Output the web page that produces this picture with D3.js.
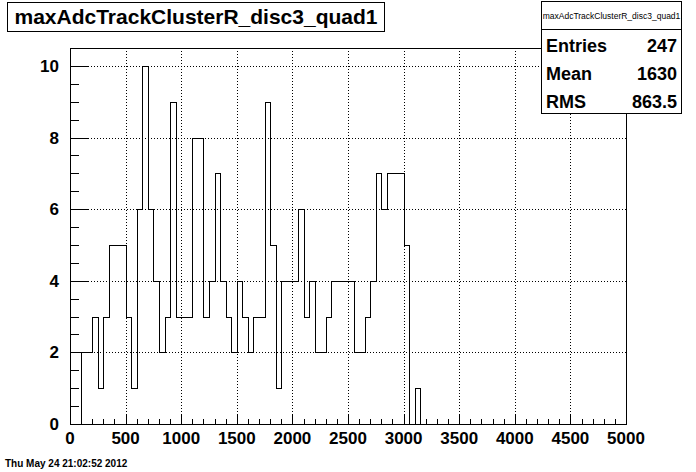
<!DOCTYPE html>
<html>
<head>
<meta charset="utf-8">
<script src="https://cdn.jsdelivr.net/npm/d3@7"></script>
<style>
  body { margin: 0; background: #fff; }
  svg { display: block; font-family: "Liberation Sans", Arial, sans-serif; }
</style>
</head>
<body>
<svg id="chart" width="696" height="472"></svg>
<script>
// histogram data (bin width 50, starting at 0)
const histTitle = "maxAdcTrackClusterR_disc3_quad1";
const binWidth = 50;
const counts = [0, 0, 2, 2, 3, 1, 3, 5, 5, 5, 3, 1, 6, 10, 6, 4, 2, 3, 9, 3,
                3, 3, 8, 8, 3, 4, 7, 4, 3, 2, 4, 3, 2, 3, 3, 9, 5, 1, 4, 4,
                4, 6, 3, 4, 2, 2, 3, 4, 4, 4, 4, 2, 2, 3, 4, 7, 6, 7, 7, 7,
                5, 0, 1];
const xTicks = [0, 500, 1000, 1500, 2000, 2500, 3000, 3500, 4000, 4500, 5000];
const yTicks = [0, 2, 4, 6, 8, 10];
const statLabels = ["Entries", "Mean", "RMS"];
const statValues = ["247", "1630", "863.5"];
const dateText = "Thu May 24 21:02:52 2012";

const svg = d3.select("#chart");
const frame = { left: 70, right: 626, top: 48, bottom: 424 };

const x = d3.scaleLinear().domain([0, 5000]).range([frame.left, frame.right]);
const y = d3.scaleLinear().domain([0, 10.5]).range([frame.bottom, frame.top]);

// grid (dotted)
const grid = svg.append("g").attr("stroke", "#000").attr("stroke-width", 1)
    .attr("stroke-dasharray", "1,2").attr("shape-rendering", "crispEdges");
grid.selectAll(".gx").data(xTicks.slice(1, -1)).enter().append("line")
    .attr("x1", d => Math.round(x(d)) + 0.5).attr("x2", d => Math.round(x(d)) + 0.5)
    .attr("y1", frame.top).attr("y2", frame.bottom);
grid.selectAll(".gy").data(yTicks.slice(1)).enter().append("line")
    .attr("y1", d => Math.round(y(d)) + 0.5).attr("y2", d => Math.round(y(d)) + 0.5)
    .attr("x1", frame.left).attr("x2", frame.right);

// histogram outline
const pts = [[0, 0]];
counts.forEach((c, i) => {
    pts.push([i * binWidth, c]);
    pts.push([(i + 1) * binWidth, c]);
});
pts.push([counts.length * binWidth, 0]);
pts.push([5000, 0]);
svg.append("path")
    .datum(pts)
    .attr("fill", "none")
    .attr("stroke", "#000")
    .attr("stroke-width", 1)
    .attr("shape-rendering", "crispEdges")
    .attr("d", d3.line().x(d => Math.round(x(d[0])) + 0.5).y(d => Math.round(y(d[1])) + 0.5));

// frame
svg.append("rect")
    .attr("x", frame.left + 0.5).attr("y", frame.top + 0.5)
    .attr("width", frame.right - frame.left).attr("height", frame.bottom - frame.top)
    .attr("fill", "none").attr("stroke", "#000").attr("shape-rendering", "crispEdges");

// axes, ticks pointing inward
const xAxis = d3.axisTop(x).tickValues(d3.range(0, 5001, 100)).tickFormat("")
    .tickSizeInner(0).tickSizeOuter(0);
const gx = svg.append("g").attr("transform", `translate(0,${frame.bottom + 0.5})`).call(xAxis);
gx.select(".domain").remove();
gx.selectAll(".tick line")
    .attr("y2", d => d % 500 === 0 ? -11 : -6)
    .attr("stroke", "#000").attr("shape-rendering", "crispEdges");

const yAxis = d3.axisRight(y).tickValues(d3.range(0, 10.01, 0.5)).tickFormat("")
    .tickSizeInner(0).tickSizeOuter(0);
const gy = svg.append("g").attr("transform", `translate(${frame.left + 0.5},0)`).call(yAxis);
gy.select(".domain").remove();
gy.selectAll(".tick line")
    .attr("x2", d => d % 2 === 0 ? 17 : 8)
    .attr("stroke", "#000").attr("shape-rendering", "crispEdges");

// tick labels
svg.append("g").selectAll("text").data(xTicks).enter().append("text")
    .attr("x", d => x(d)).attr("y", 444)
    .attr("text-anchor", "middle")
    .attr("font-size", 17).attr("font-weight", "bold")
    .text(d => d);
svg.append("g").selectAll("text").data(yTicks).enter().append("text")
    .attr("x", 59).attr("y", d => y(d) + 6)
    .attr("text-anchor", "end")
    .attr("font-size", 17).attr("font-weight", "bold")
    .text(d => d);

// title box
svg.append("rect")
    .attr("x", 7.5).attr("y", 2.5).attr("width", 377).attr("height", 29)
    .attr("fill", "#fff").attr("stroke", "#000");
svg.append("text")
    .attr("x", 196).attr("y", 24)
    .attr("text-anchor", "middle")
    .attr("font-size", 21).attr("font-weight", "bold")
    .text(histTitle);

// stat box
const sb = { x: 541.5, y: 1.5, w: 140, h: 112 };
svg.append("rect")
    .attr("x", sb.x).attr("y", sb.y).attr("width", sb.w).attr("height", sb.h)
    .attr("fill", "#fff").attr("stroke", "#000");
svg.append("line")
    .attr("x1", sb.x).attr("x2", sb.x + sb.w).attr("y1", 29.5).attr("y2", 29.5)
    .attr("stroke", "#000");
svg.append("text")
    .attr("x", sb.x + sb.w / 2).attr("y", 19)
    .attr("text-anchor", "middle").attr("font-size", 8.5)
    .text(histTitle);
statLabels.forEach((lab, i) => {
    const yy = 52 + i * 28;
    svg.append("text").attr("x", 546).attr("y", yy)
        .attr("font-size", 18).attr("font-weight", "bold").text(lab);
    svg.append("text").attr("x", 677).attr("y", yy)
        .attr("text-anchor", "end")
        .attr("font-size", 18).attr("font-weight", "bold").text(statValues[i]);
});

// date stamp
svg.append("text")
    .attr("x", 5).attr("y", 467)
    .attr("font-size", 10).attr("font-weight", "bold")
    .text(dateText);
</script>
</body>
</html>
